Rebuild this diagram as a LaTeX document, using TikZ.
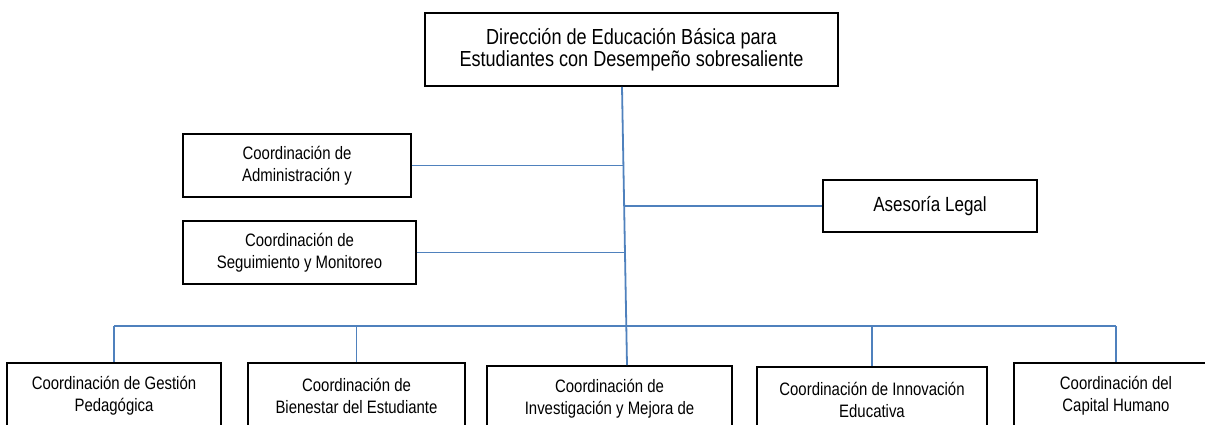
\documentclass[tikz,border=0pt]{standalone}
\usepackage{fontspec}
\setmainfont[FakeStretch=0.83]{Liberation Sans}
\usepackage{xcolor}
\definecolor{linkblue}{RGB}{79,129,189}

\begin{document}
\begin{tikzpicture}[x=1pt,y=-1pt,
  org box/.style={draw,line width=1.8pt,inner sep=0pt,align=center,
    font=\fontsize{18}{22}\selectfont},
  link/.style={draw=linkblue,line width=1.8pt}]
  \useasboundingbox (0,0) rectangle (1205,425);
  \clip (0,0) rectangle (1205,425);
  % top of the chart
  \node[org box,minimum width=413pt,minimum height=73pt,
    font=\fontsize{21.8}{22}\selectfont] (dir) at (631.5,49.5)
    {Dirección de Educación Básica para\\Estudiantes con Desempeño sobresaliente};
  \node[org box,minimum width=228pt,minimum height=63pt] (admin) at (297,165.5)
    {Coordinación de\\Administración y};
  \node[org box,minimum width=233pt,minimum height=63pt] (seg) at (299.5,252.5)
    {Coordinación de\\Seguimiento y Monitoreo};
  \node[org box,minimum width=214pt,minimum height=52pt,
    font=\fontsize{20.5}{22}\selectfont] (legal) at (930,206) {Asesoría Legal};
  % bottom row
  \node[org box,minimum width=214pt,minimum height=65pt] (gestion) at (114,395.5)
    {Coordinación de Gestión\\Pedagógica};
  \node[org box,minimum width=217pt,minimum height=65pt] (bienestar) at (356.5,395.5)
    {Coordinación de\\Bienestar del Estudiante};
  \node[org box,minimum width=245pt,minimum height=65pt] (invest) at (609.5,398.5)
    {Coordinación de\\Investigación y Mejora de};
  \node[org box,minimum width=230pt,minimum height=65pt] (innov) at (872,399.5)
    {Coordinación de Innovación\\Educativa};
  \node[org box,minimum width=204pt,minimum height=65pt] (capital) at (1116,395.5)
    {Coordinación del\\Capital Humano};

  \coordinate (trunk) at (624,0);
  \coordinate (bus) at (0,326);
  \draw[link] ([xshift=-9.5pt]dir.south) -- ([xshift=17.5pt]invest.north);
  \draw[link] (admin.east) -- (admin.east -| trunk);
  \draw[link] (seg.east) -- (seg.east -| trunk);
  \draw[link] (legal.west -| trunk) -- (legal.west);
  \draw[link] (gestion.north |- bus) -- (capital.north |- bus);
  \foreach \n in {gestion,bienestar,innov,capital}
    \draw[link] (\n.north |- bus) -- (\n.north);
\end{tikzpicture}
\end{document}
